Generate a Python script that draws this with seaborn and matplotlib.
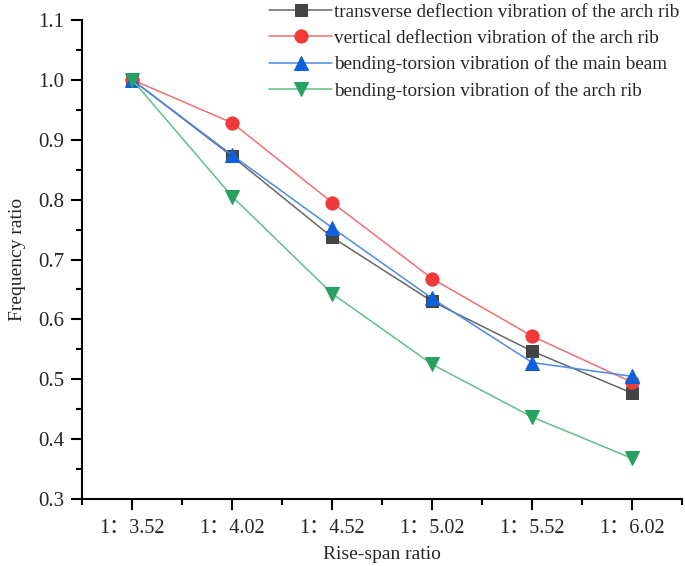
import matplotlib
matplotlib.use("Agg")
import matplotlib.pyplot as plt
import seaborn as sns
import pandas as pd
from matplotlib.ticker import FixedLocator, MultipleLocator

sns.set_theme(style="ticks")
plt.rcParams['font.family'] = ['Liberation Serif', 'Noto Sans CJK SC']

# Data
ratios = ["1：3.52", "1：4.02", "1：4.52", "1：5.02", "1：5.52", "1：6.02"]
transverse_arch = [1.000, 0.872, 0.737, 0.630, 0.547, 0.477]
vertical_arch = [1.000, 0.928, 0.795, 0.668, 0.572, 0.495]
bending_beam = [1.000, 0.874, 0.753, 0.635, 0.528, 0.505]
bending_arch = [1.000, 0.805, 0.643, 0.525, 0.437, 0.368]

series = [
    ("transverse deflection vibration of the arch rib", transverse_arch, "s", "#666666", "#444444", 8.5),
    ("vertical deflection vibration of the arch rib", vertical_arch, "o", "#f07070", "#f03a3a", 9.5),
    ("bending-torsion vibration of the main beam", bending_beam, "^", "#4a8ae8", "#1060dc", 10),
    ("bending-torsion vibration of the arch rib", bending_arch, "v", "#60c088", "#27a060", 10),
]

fig = plt.figure(figsize=(6.85, 5.66), dpi=100)
ax = fig.add_axes([0.12, 0.118, 0.876, 0.847])

for name, vals, marker, lc, mc, ms in series:
    df = pd.DataFrame({"pos": range(len(ratios)), "ratio": vals})
    sns.lineplot(data=df, x="pos", y="ratio", ax=ax, label=name,
                 color=lc, linewidth=1.1, marker=marker, markersize=ms,
                 markerfacecolor=mc, markeredgecolor=mc)

ax.set_xlim(-0.5, len(ratios) - 0.5)
ax.set_ylim(0.3, 1.1)
ax.set_xticks(range(len(ratios)))
ax.set_xticklabels(ratios, fontsize=14.5)
ax.xaxis.set_minor_locator(FixedLocator([i + 0.5 for i in range(-1, len(ratios))]))
ax.set_yticks([0.3 + 0.1 * i for i in range(9)])
ax.set_yticklabels([f"{0.3 + 0.1 * i:.1f}" for i in range(9)], fontsize=15)
ax.yaxis.set_minor_locator(MultipleLocator(0.05))

for side in ["top", "right"]:
    ax.spines[side].set_visible(False)
for side in ["left", "bottom"]:
    ax.spines[side].set_linewidth(1.5)
    ax.spines[side].set_color("black")
ax.tick_params(which="major", direction="out", length=8, width=1.5, color="black")
ax.tick_params(which="minor", direction="out", length=4, width=1.5, color="black")
ax.tick_params(axis="x", which="major", pad=6)
ax.tick_params(axis="y", which="major", pad=5)

ax.set_xlabel("Rise-span ratio", fontsize=14, labelpad=6)
ax.set_ylabel("Frequency ratio", fontsize=14, labelpad=9)

ax.legend(loc="upper right", bbox_to_anchor=(1.008, 1.05), frameon=False,
          fontsize=13.8, handlelength=3.3, handletextpad=0.1,
          labelspacing=0.45, borderaxespad=0)

fig.savefig("out.png", dpi=100)
plt.close(fig)
